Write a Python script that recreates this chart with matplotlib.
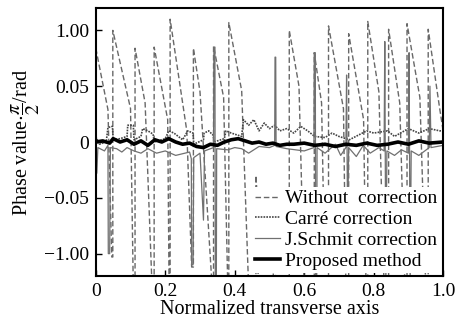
import numpy as np
import matplotlib
matplotlib.use('Agg')
import matplotlib.pyplot as plt

plt.rcParams['font.family'] = ['Liberation Serif', 'DejaVu Serif']
plt.rcParams['mathtext.fontset'] = 'stix'

# Without correction: sawtooth teeth (peak, knee, trough)
peak_x = [0.000, 0.049, 0.113, 0.168, 0.214, 0.281, 0.339, 0.383, 0.461, 0.511,
          0.557, 0.629, 0.670, 0.728, 0.783, 0.843, 0.896, 0.957]
peak_y = [0.84, 1.00, 0.84, 0.85, 1.10, 0.84, 0.86, 1.07, -0.30, -0.50,
          1.00, 0.80, 1.04, 0.97, 1.08, 1.01, 1.06, 1.01]
knee_x = [0.035, 0.100, 0.142, 0.207, 0.262, 0.300, 0.368, 0.420, 0.463, 0.513,
          0.585, 0.650, 0.713, 0.771, 0.815, 0.875, 0.933, 0.990]
knee_y = [0.29, 0.30, 0.35, 0.20, 0.10, 0.45, 0.40, 0.46, -0.40, -0.60,
          0.50, 0.35, 0.30, 0.20, 0.45, 0.35, 0.40, 0.30]
trough_x = [0.046, 0.108, 0.162, 0.211, 0.276, 0.335, 0.380, 0.440, 0.468, 0.518,
            0.600, 0.660, 0.720, 0.778, 0.830, 0.890, 0.950, 1.000]
trough_y = [-1.03, -1.30, -1.30, -1.30, -1.12, -1.30, -1.30, -1.30, -1.30, -1.30,
            -1.30, -1.30, -1.30, -1.30, -1.30, -1.30, -1.30, 0.10]

# Carre correction
carre_x = [0.000, 0.010, 0.030, 0.035, 0.048, 0.050, 0.070, 0.090, 0.092, 0.108,
           0.110, 0.130, 0.135, 0.150, 0.165, 0.168, 0.200, 0.210, 0.225, 0.250,
           0.265, 0.280, 0.282, 0.310, 0.312, 0.325, 0.338, 0.340, 0.370, 0.375,
           0.390, 0.420, 0.425, 0.440, 0.455, 0.470, 0.485, 0.500, 0.515, 0.530,
           0.550, 0.570, 0.590, 0.610, 0.630, 0.660, 0.680, 0.700, 0.730, 0.780,
           0.800, 0.840, 0.860, 0.900, 0.930, 0.960, 0.990, 1.000]
carre_y = [0.05, -0.02, 0.00, 0.13, 0.14, 0.02, 0.03, 0.05, 0.15, 0.15,
           0.02, 0.05, 0.12, 0.10, 0.07, 0.00, 0.03, 0.10, 0.08, 0.02,
           0.10, 0.08, -0.02, 0.02, 0.08, 0.10, 0.06, 0.00, 0.03, 0.10,
           0.08, 0.05, 0.20, 0.15, 0.20, 0.10, 0.17, 0.12, 0.15, 0.10,
           0.12, 0.08, 0.14, 0.10, 0.05, 0.04, 0.08, 0.05, 0.02, 0.10,
           0.08, 0.10, 0.05, 0.12, 0.08, 0.12, 0.10, 0.10]

# J.Schmit correction
schmit_x = [0.000, 0.003, 0.006, 0.025, 0.035, 0.036, 0.040, 0.042, 0.060, 0.075,
            0.090, 0.110, 0.130, 0.150, 0.175, 0.200, 0.230, 0.270, 0.275, 0.276,
            0.280, 0.282, 0.300, 0.310, 0.313, 0.339, 0.340, 0.343, 0.344, 0.347,
            0.348, 0.380, 0.400, 0.420, 0.440, 0.470, 0.500, 0.515, 0.516, 0.518,
            0.519, 0.550, 0.600, 0.628, 0.629, 0.632, 0.633, 0.636, 0.637, 0.660,
            0.690, 0.705, 0.720, 0.722, 0.725, 0.728, 0.750, 0.770, 0.790, 0.815,
            0.830, 0.832, 0.835, 0.838, 0.860, 0.880, 0.900, 0.902, 0.905, 0.908,
            0.930, 0.960, 0.962, 0.965, 1.000]
schmit_y = [-0.05, -0.28, -0.05, -0.08, -0.03, -1.00, -1.00, -0.05, -0.06, -0.09,
            -0.05, -0.08, -0.10, -0.06, -0.10, -0.08, -0.12, -0.09, -0.15, -1.10,
            -1.10, -0.14, -0.10, -0.70, -0.08, -0.05, 0.85, 0.85, -1.30, -1.30,
            -0.06, -0.07, -0.05, -0.06, -0.10, -0.04, -0.05, -0.03, 0.76, 0.76,
            -0.04, -0.06, -0.08, -0.05, 0.80, 0.80, -1.30, -1.30, -0.05, -0.10,
            -0.02, -0.12, -0.05, 0.60, -0.80, -0.05, -0.13, -0.03, -0.10, -0.05,
            -0.08, 0.90, -1.30, -0.08, -0.12, -0.07, -0.10, 0.80, -1.30, -0.08,
            -0.12, -0.05, 0.50, -0.05, -0.03]

# Proposed method
prop_x = [0.00, 0.02, 0.04, 0.05, 0.07, 0.09, 0.11, 0.13, 0.15, 0.17, 0.19, 0.21,
          0.23, 0.25, 0.27, 0.29, 0.31, 0.33, 0.35, 0.37, 0.39, 0.41, 0.43, 0.45,
          0.47, 0.49, 0.51, 0.53, 0.55, 0.57, 0.60, 0.63, 0.66, 0.69, 0.72, 0.75,
          0.78, 0.81, 0.84, 0.87, 0.90, 0.93, 0.96, 1.00]
prop_y = [0.00, 0.01, -0.01, 0.03, 0.00, 0.02, -0.02, 0.01, -0.03, 0.02, 0.00, 0.03,
          0.00, -0.02, -0.01, -0.04, -0.05, -0.02, -0.03, 0.00, 0.02, 0.03, 0.01, -0.01,
          0.00, -0.02, -0.01, -0.03, -0.02, -0.02, -0.01, -0.03, -0.02, -0.04, -0.02, -0.03,
          -0.01, -0.03, -0.02, 0.00, -0.02, 0.01, -0.01, 0.00]

y_ticks = [1.0, 0.5, 0.0, -0.5, -1.0]
y_labels = ['1.00', '0.05', '0', '\u22120.05', '\u22121.00']
x_ticks = [0, 0.2, 0.4, 0.6, 0.8, 1.0]
x_labels = ['0', '0.2', '0.4', '0.6', '0.8', '1.0']

# build sawtooth polyline
saw_x, saw_y = [], []
for i in range(len(peak_x)):
    if i > 0:
        saw_x.append(peak_x[i])
        saw_y.append(trough_y[i - 1])
    saw_x += [peak_x[i], knee_x[i], trough_x[i]]
    saw_y += [peak_y[i], knee_y[i], trough_y[i]]

fig = plt.figure(figsize=(4.65, 3.22), dpi=100)
ax = fig.add_axes([0.206, 0.143, 0.747, 0.832])

ax.plot(saw_x, saw_y, color='#686868', lw=1.0, ls=(0, (4, 2)), label='Without  correction')
ax.plot(carre_x, carre_y, color='#444444', lw=1.2, ls=(0, (1, 0.7)), label='Carré correction')
ax.plot(schmit_x, schmit_y, color='#707070', lw=0.9, label='J.Schmit correction')
ax.plot(prop_x, prop_y, color='black', lw=2.6, label='Proposed method')

ax.set_xlim(0, 1)
ax.set_ylim(-1.2, 1.2)
ax.set_xticks(x_ticks)
ax.set_xticklabels(x_labels)
ax.set_yticks(y_ticks)
ax.set_yticklabels(y_labels)
ax.tick_params(direction='in', length=4.5, width=1, labelsize=14, pad=5)
for s in ax.spines.values():
    s.set_linewidth(1.5)

ax.set_xlabel('Normalized transverse axis', fontsize=14.5, labelpad=0)
ax.set_ylabel(r'Phase value$\cdot\dfrac{\pi}{2}$/rad', fontsize=14.5, labelpad=1)

leg = ax.legend(loc='lower right', fontsize=14, frameon=True, fancybox=False,
                handlelength=1.3, handletextpad=0.25, labelspacing=0.17,
                borderpad=0.15, borderaxespad=0.15)
leg.get_frame().set_edgecolor('none')
leg.get_frame().set_facecolor('white')
leg.get_frame().set_alpha(1)

fig.savefig('out.png', dpi=100)
